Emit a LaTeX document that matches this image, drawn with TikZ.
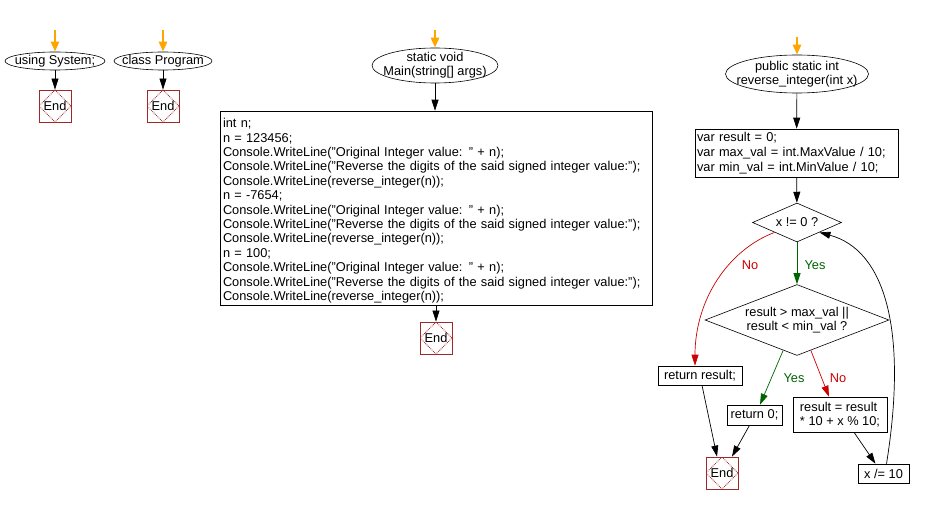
\documentclass[tikz,border=0pt]{standalone}
\usepackage{fontspec}
\setmainfont{Liberation Sans}
\usetikzlibrary{shapes.geometric,arrows.meta,calc}
\definecolor{endred}{RGB}{160,40,40}
\definecolor{yesgreen}{RGB}{0,100,0}
\definecolor{nored}{RGB}{204,0,0}
\definecolor{startorange}{RGB}{255,165,0}
\begin{document}
\begin{tikzpicture}[x=1pt,y=-1pt, font=\fontsize{12.8}{14.4}\selectfont,
  startell/.style={ellipse, draw, line width=0.6pt, inner sep=0pt},
  endbox/.style={rectangle, draw=endred, line width=0.8pt, minimum size=32pt, inner sep=0pt,
    path picture={\draw[endred, densely dotted, line width=0.8pt] (path picture bounding box.north) -- (path picture bounding box.east) -- (path picture bounding box.south) -- (path picture bounding box.west) -- cycle;}},
  procbox/.style={rectangle, draw, line width=0.6pt, inner sep=3pt, align=left},
  decision/.style={diamond, draw, line width=0.6pt, inner sep=0pt, align=center},
  flow/.style={-{Triangle[width=7pt,length=11pt]}, line width=0.7pt},
  entry/.style={-{Triangle[width=8pt,length=10pt]}, startorange, line width=2.5pt},
  yesl/.style={text=yesgreen},
  nol/.style={text=nored},
]
\useasboundingbox (0,0) rectangle (926,505);

% left: using System;
\coordinate (s1) at (55,30);
\node[startell, minimum width=100pt, minimum height=18pt, label=center:{using System;}] (us) at (55,61) {};
\node[endbox] (e1) at (55,106) {End};
\draw[entry] (s1) -- (us);
\draw[flow] (us) -- (e1);

% class Program
\coordinate (s2) at (163,30);
\node[startell, minimum width=98pt, minimum height=18pt, label=center:{class Program}] (cp) at (163,61) {};
\node[endbox] (e2) at (163,106) {End};
\draw[entry] (s2) -- (cp);
\draw[flow] (cp) -- (e2);

% Main
\coordinate (s3) at (435,30);
\node[startell, minimum width=126pt, minimum height=35pt, label={[align=center, font=\fontsize{12.8}{14}\selectfont]center:static void\\Main(string[] args)}] (mn) at (435,65.5) {};
\node[procbox, minimum width=432pt, minimum height=194pt, text width=426pt, inner xsep=2pt, inner ysep=0pt] (code) at (436,208) {\rule{0pt}{15pt}int n;\\
n = 123456;\\
Console.WriteLine("Original Integer value: " + n);\\
Console.WriteLine("Reverse the digits of the said signed integer value:");\\
Console.WriteLine(reverse\_integer(n));\\
n = -7654;\\
Console.WriteLine("Original Integer value: " + n);\\
Console.WriteLine("Reverse the digits of the said signed integer value:");\\
Console.WriteLine(reverse\_integer(n));\\
n = 100;\\
Console.WriteLine("Original Integer value: " + n);\\
Console.WriteLine("Reverse the digits of the said signed integer value:");\\
Console.WriteLine(reverse\_integer(n));};
\node[endbox] (e3) at (436,338) {End};
\draw[entry] (s3) -- (mn);
\draw[flow] (mn) -- (code.north -| mn);
\draw[flow] (code.south -| e3) -- (e3);

% reverse_integer
\coordinate (s4) at (797,37);
\node[startell, minimum width=143pt, minimum height=38pt, label={[align=center, font=\fontsize{12.8}{14}\selectfont]center:public static int\\reverse\_integer(int x)}] (ri) at (797,74) {};
\node[procbox, minimum width=203pt, minimum height=48pt, text width=199pt, inner xsep=2pt, font=\fontsize{12.8}{15}\selectfont] (vr) at (796.5,153) {var result = 0;\\var max\_val = int.MaxValue / 10;\\var min\_val = int.MinValue / 10;};
\node[decision, minimum width=89pt, minimum height=39pt, shape aspect=2.28] (d1) at (797,222.5) {x != 0 ?};
\node[decision, minimum width=184pt, minimum height=68pt, shape aspect=2.3, font=\fontsize{12.8}{14}\selectfont] (d2) at (797,320) {result > max\_val ||\\result < min\_val ?};
\node[procbox, minimum width=84pt, minimum height=19pt, inner sep=1pt] (rr) at (700,375.5) {return result;};
\node[procbox, minimum width=55pt, minimum height=20pt, inner sep=1pt] (r0) at (754.5,415) {return 0;};
\node[procbox, minimum width=94pt, minimum height=35pt, inner sep=1pt, font=\fontsize{12.8}{14}\selectfont] (rs) at (840,414.5) {result = result\\* 10 + x \% 10;};
\node[procbox, minimum width=51pt, minimum height=19pt, inner sep=1pt] (xd) at (883.5,473.5) {x /= 10};
\node[endbox] (e4) at (722,473) {End};

\draw[entry] (s4) -- (ri);
\draw[flow] (ri) -- (vr);
\draw[flow] (vr) -- (d1);
\draw[flow, yesgreen] (d1) -- (d2);
\node[yesl] (ly1) at (815,265) {Yes};
\draw[flow, nored] (d1.south west) .. controls (728,250) and (695,300) .. ([xshift=-5pt]rr.north);
\node[nol] (ln1) at (750,265) {No};
\draw[flow, yesgreen] ($(d2.south)!0.15!(d2.west)$) -- ([xshift=5.5pt]r0.north);
\node[yesl] (ly2) at (794,378) {Yes};
\draw[flow, nored] ($(d2.south)!0.15!(d2.east)$) -- ([xshift=-11pt]rs.north);
\node[nol] (ln2) at (838,378) {No};
\draw[flow] ([xshift=2pt]rr.south) -- ([xshift=-5pt]e4.north);
\draw[flow] ([xshift=-5pt]r0.south) -- ([xshift=10pt]e4.north);
\draw[flow] ([xshift=14pt]rs.south) -- ([xshift=-8pt]xd.north);
\draw[flow] ([xshift=3pt]xd.north) .. controls (908,330) and (885,250) .. (d1.south east);
\end{tikzpicture}
\end{document}
